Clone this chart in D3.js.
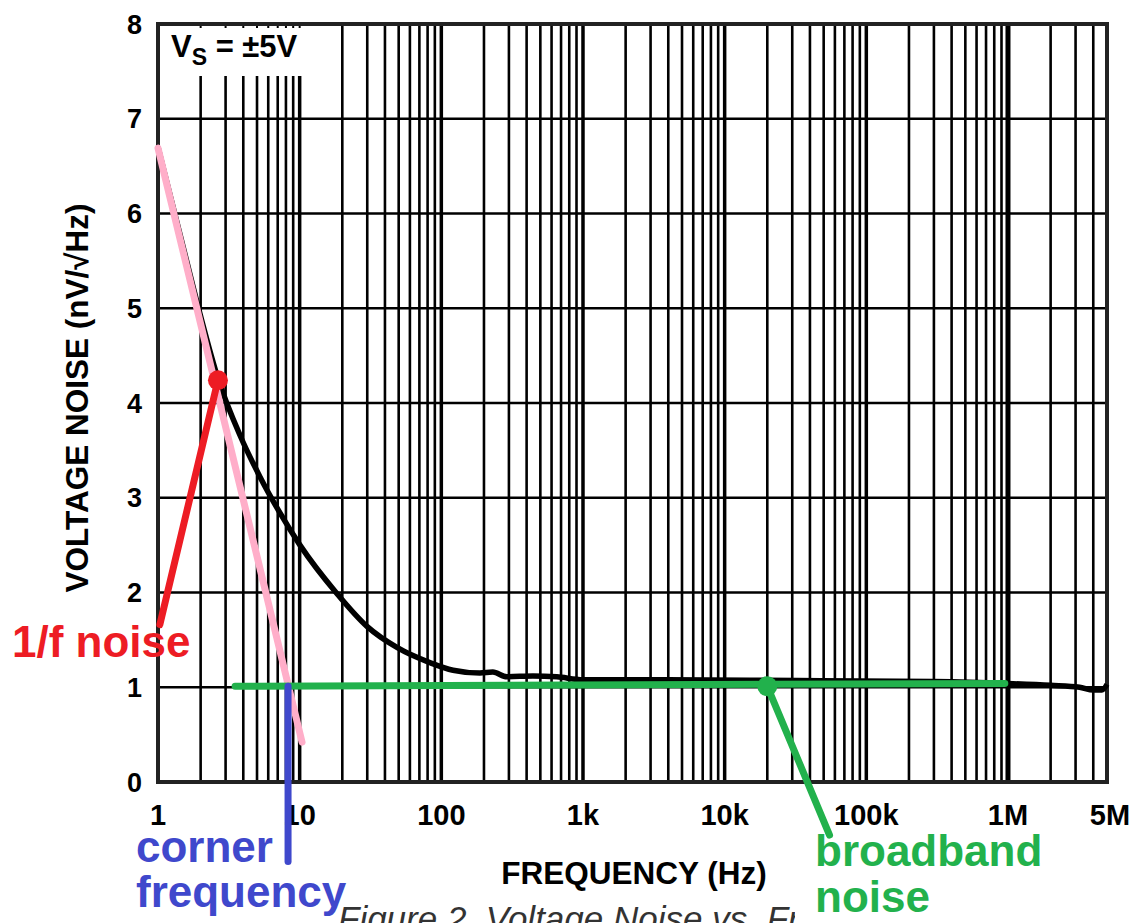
<!DOCTYPE html>
<html>
<head>
<meta charset="utf-8">
<script src="https://cdn.jsdelivr.net/npm/d3@7/dist/d3.min.js"></script>
<style>
  body { margin: 0; background: #fff; }
  svg { display: block; font-family: "Liberation Sans", Arial, sans-serif; }
</style>
</head>
<body>
<svg id="chart" width="1140" height="923"></svg>
<script>
// measured noise curve (Hz, nV/rtHz)
var noiseFreq = [1, 1.43, 1.98, 2.65, 3.79, 5.25, 7.26, 10.05, 18.3, 30, 48.6, 83, 121, 187, 231, 290, 443, 654, 1000, 3900, 33000, 300000, 980000, 2000000, 3200000, 4000000, 4600000, 5000000];
var noiseVal  = [6.70, 5.78, 4.94, 4.26, 3.66, 3.22, 2.84, 2.50, 1.99, 1.64, 1.42, 1.26, 1.18, 1.15, 1.16, 1.11, 1.12, 1.11, 1.08, 1.08, 1.07, 1.06, 1.04, 1.02, 1.00, 0.97, 0.97, 1.03];

// hand-drawn annotations
var oneOverF = [[1, 6.69], [10.4, 0.42]];
var broadband = [[3.5, 1.01], [950000, 1.04]];
var redDot = [2.65, 4.24];
var redPointer = [[2.65, 4.24], [1.03, 1.66]];
var greenDot = [20000, 1.01];
var greenPointer = [[20000, 1.01], [55000, -0.56]];
var cornerPointer = [[8.28, 1.01], [8.28, -0.84]];

var yTicks = [0, 1, 2, 3, 4, 5, 6, 7, 8];
var xTickVals = [1, 10, 100, 1000, 10000, 100000, 1000000, 5000000];
var xTickLabels = ["1", "10", "100", "1k", "10k", "100k", "1M", "5M"];

var svg = d3.select("#chart");
var x = d3.scaleLog().domain([1, 5000000]).range([158, 1107]);
var y = d3.scaleLinear().domain([0, 8]).range([782, 24]);

// vertical grid: 2..9 per decade plus decade lines
var minor = [];
var decades = [];
for (var k = 0; k <= 6; k++) {
  var base = Math.pow(10, k);
  if (k > 0) decades.push(base);
  for (var m = 2; m <= 9; m++) {
    if (m * base < 5000000) minor.push(m * base);
  }
}

var grid = svg.append("g");
grid.selectAll("line.minor")
  .data(minor)
  .enter()
  .append("line")
  .attr("x1", function(d) { return x(d); })
  .attr("x2", function(d) { return x(d); })
  .attr("y1", y(0))
  .attr("y2", function(d) { return d < 10 ? y(7.45) : y(8); })
  .attr("stroke", "#000")
  .attr("stroke-width", 2.6);

grid.selectAll("line.decade")
  .data(decades)
  .enter()
  .append("line")
  .attr("x1", function(d) { return x(d); })
  .attr("x2", function(d) { return x(d); })
  .attr("y1", y(0))
  .attr("y2", function(d) { return d <= 10 ? y(7.45) : y(8); })
  .attr("stroke", "#000")
  .attr("stroke-width", function(d) { return d == 1000000 ? 5 : 3.5; });

// small ticks along top of label box
grid.selectAll("line.topTick")
  .data(minor.filter(function(d) { return d < 10; }).concat([10]))
  .enter()
  .append("line")
  .attr("x1", function(d) { return x(d); })
  .attr("x2", function(d) { return x(d); })
  .attr("y1", y(8))
  .attr("y2", y(8) + 4)
  .attr("stroke", "#000")
  .attr("stroke-width", 2);

grid.selectAll("line.h")
  .data(yTicks.slice(1, 8))
  .enter()
  .append("line")
  .attr("x1", x(1))
  .attr("x2", x(5000000))
  .attr("y1", function(d) { return y(d); })
  .attr("y2", function(d) { return y(d); })
  .attr("stroke", "#000")
  .attr("stroke-width", 2.6);

svg.append("rect")
  .attr("x", x(1))
  .attr("y", y(8))
  .attr("width", x(5000000) - x(1))
  .attr("height", y(0) - y(8))
  .attr("fill", "none")
  .attr("stroke", "#222")
  .attr("stroke-width", 4);

// tick labels
svg.append("g").selectAll("text")
  .data(yTicks)
  .enter()
  .append("text")
  .attr("x", 142)
  .attr("y", function(d) { return y(d); })
  .attr("dy", "0.36em")
  .attr("text-anchor", "end")
  .attr("font-size", 27)
  .attr("font-weight", "bold")
  .text(function(d) { return d; });

svg.append("g").selectAll("text")
  .data(xTickVals)
  .enter()
  .append("text")
  .attr("x", function(d) { return x(d) + (d == 5000000 ? 3 : 0); })
  .attr("y", 825)
  .attr("text-anchor", "middle")
  .attr("font-size", 29)
  .attr("font-weight", "bold")
  .text(function(d, i) { return xTickLabels[i]; });

svg.append("text")
  .attr("x", 634)
  .attr("y", 884)
  .attr("text-anchor", "middle")
  .attr("font-size", 31.5)
  .attr("font-weight", "bold")
  .text("FREQUENCY (Hz)");

svg.append("text")
  .attr("transform", "translate(88,398) rotate(-90)")
  .attr("text-anchor", "middle")
  .attr("font-size", 31.5)
  .attr("font-weight", "bold")
  .text("VOLTAGE NOISE (nV/\u221AHz)");

var vs = svg.append("text")
  .attr("x", 171)
  .attr("y", 57)
  .attr("font-size", 31)
  .attr("font-weight", "bold");
vs.append("tspan").text("V");
vs.append("tspan").attr("font-size", 23).attr("dy", 8).text("S");
vs.append("tspan").attr("dy", -8).text(" = \u00B15V");

// caption, mostly cut off
svg.append("defs").append("clipPath").attr("id", "capClip")
  .append("rect").attr("x", 0).attr("y", 0).attr("width", 795).attr("height", 923);
svg.append("text")
  .attr("x", 338)
  .attr("y", 931)
  .attr("font-size", 35)
  .attr("font-style", "italic")
  .attr("fill", "#333")
  .attr("clip-path", "url(#capClip)")
  .text("Figure 2. Voltage Noise vs. Frequency");

// noise curve
var line = d3.line()
  .x(function(d) { return x(d[0]); })
  .y(function(d) { return y(d[1]); })
  .curve(d3.curveMonotoneX);

svg.append("path")
  .datum(noiseFreq.map(function(f, i) { return [f, noiseVal[i]]; }))
  .attr("d", line)
  .attr("fill", "none")
  .attr("stroke", "#000")
  .attr("stroke-width", 5.5)
  .attr("stroke-linejoin", "round");

var straight = d3.line()
  .x(function(d) { return x(d[0]); })
  .y(function(d) { return y(d[1]); });

svg.append("path")
  .datum(oneOverF)
  .attr("d", straight)
  .attr("stroke", "#ffaec9")
  .attr("stroke-width", 7)
  .attr("stroke-linecap", "round");

svg.append("path")
  .datum(broadband)
  .attr("d", straight)
  .attr("stroke", "#22b14c")
  .attr("stroke-width", 7)
  .attr("stroke-linecap", "round");

svg.append("path")
  .datum(cornerPointer)
  .attr("d", straight)
  .attr("stroke", "#3f48cc")
  .attr("stroke-width", 7)
  .attr("stroke-linecap", "round");

svg.append("path")
  .datum(redPointer)
  .attr("d", straight)
  .attr("stroke", "#ed1c24")
  .attr("stroke-width", 7)
  .attr("stroke-linecap", "round");

svg.append("circle")
  .attr("cx", x(redDot[0]))
  .attr("cy", y(redDot[1]))
  .attr("r", 10)
  .attr("fill", "#ed1c24");

svg.append("path")
  .datum(greenPointer)
  .attr("d", straight)
  .attr("stroke", "#22b14c")
  .attr("stroke-width", 7)
  .attr("stroke-linecap", "round");

svg.append("circle")
  .attr("cx", x(greenDot[0]))
  .attr("cy", y(greenDot[1]))
  .attr("r", 10)
  .attr("fill", "#22b14c");

// annotation labels
function label(txt, lx, ly, color) {
  svg.append("text")
    .attr("x", lx)
    .attr("y", ly)
    .attr("font-size", 44)
    .attr("font-weight", "bold")
    .attr("fill", color)
    .text(txt);
}
label("1/f noise", 12, 657, "#ed1c24");
label("corner", 136, 862, "#3f48cc");
label("frequency", 136, 907, "#3f48cc");
label("broadband", 815, 866, "#22b14c");
label("noise", 815, 912, "#22b14c");
</script>
</body>
</html>
